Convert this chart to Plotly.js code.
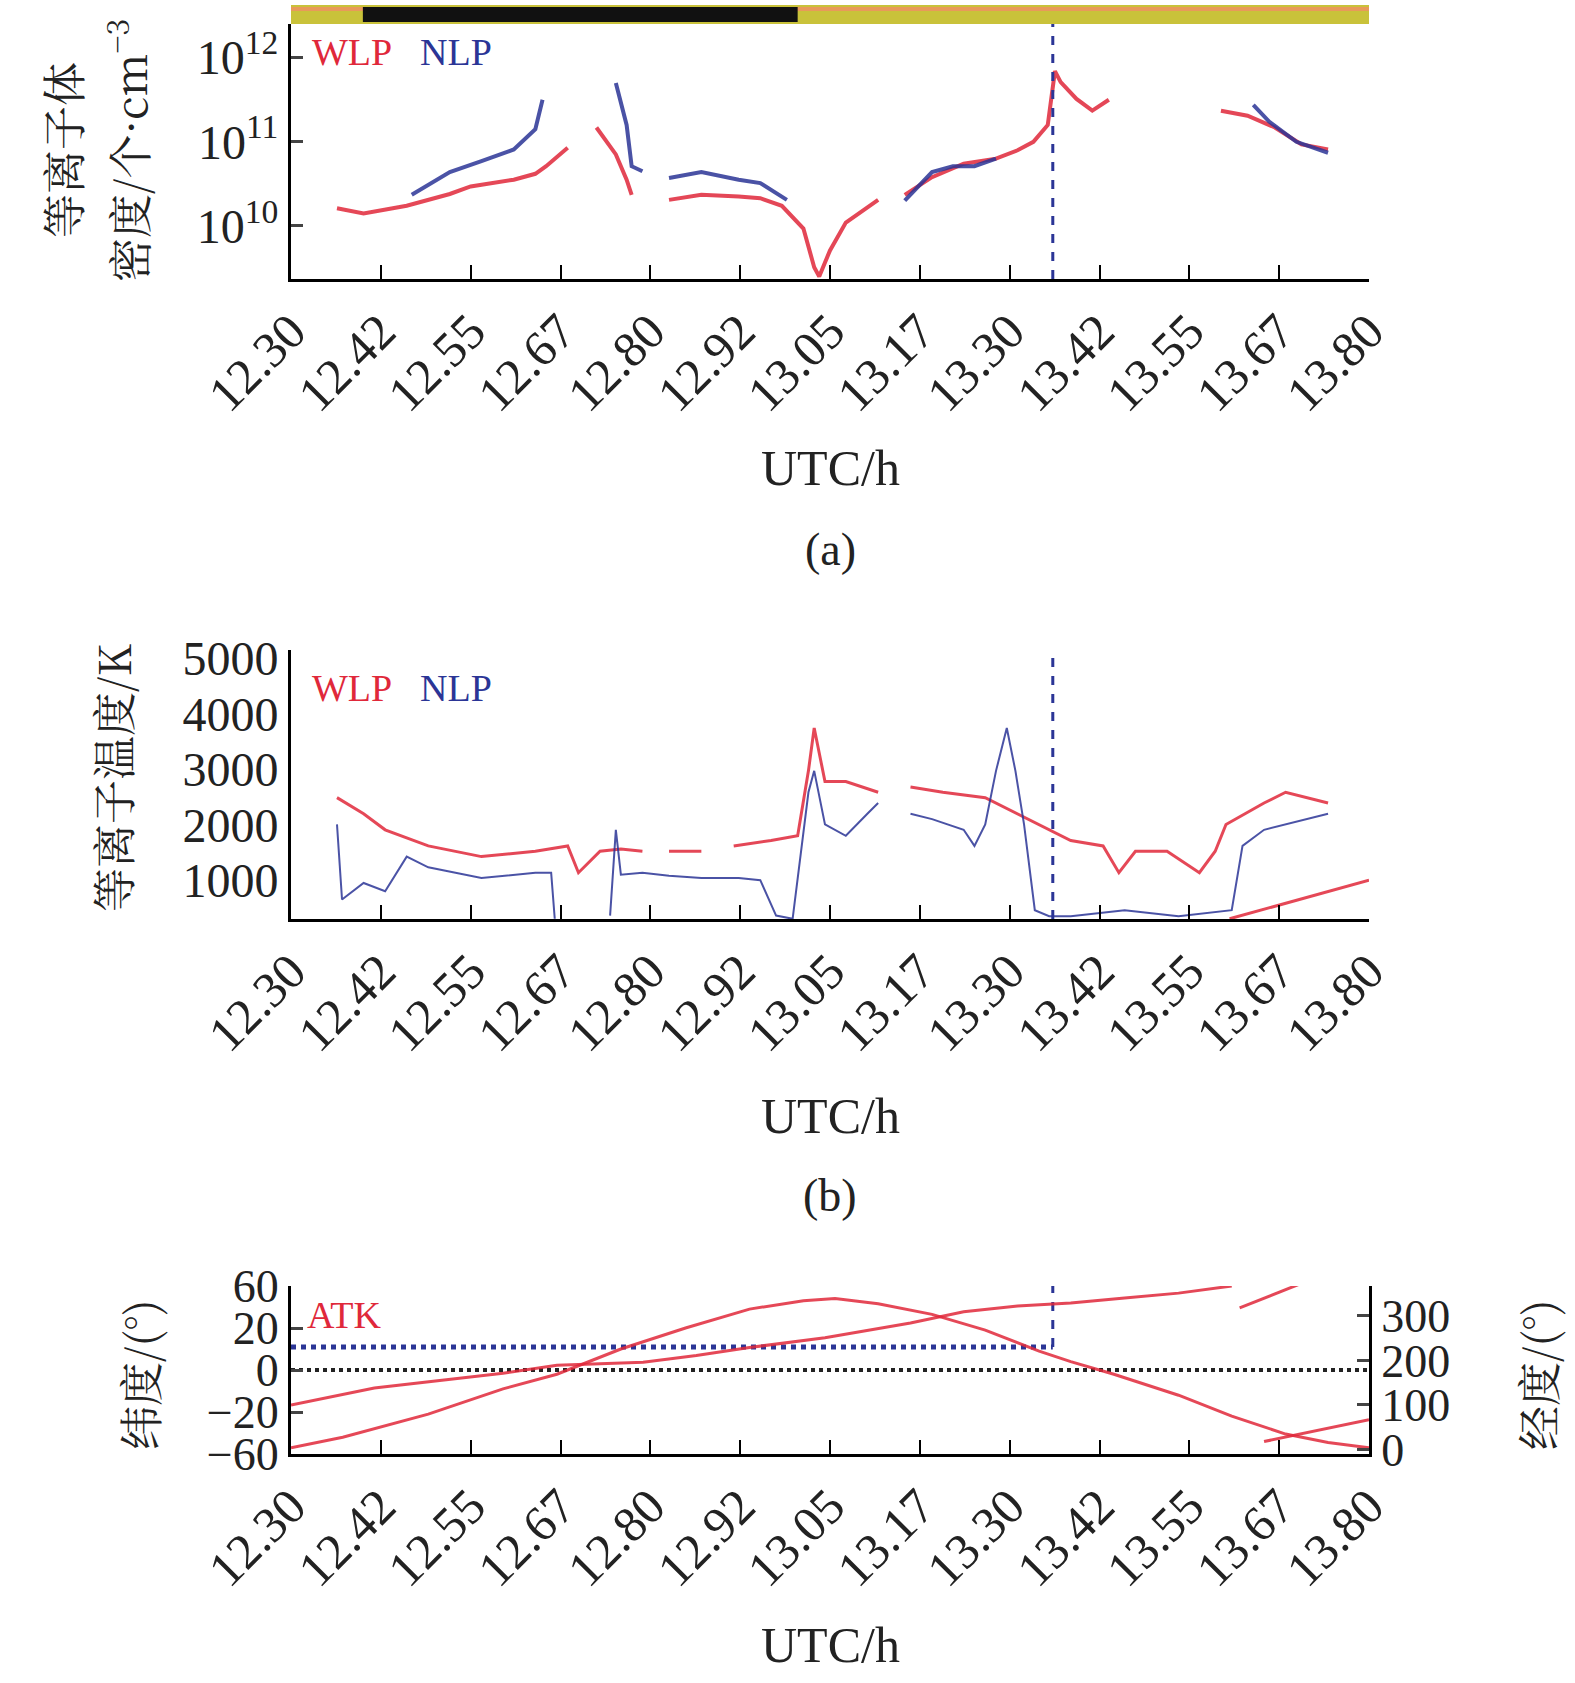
<!DOCTYPE html>
<html><head><meta charset="utf-8">
<script src="https://cdn.plot.ly/plotly-3.0.1.min.js"></script>
<style>body{margin:0;background:#fff}</style></head>
<body><div id="g" style="width:1575px;height:1683px"></div>
<script>
const tickVals=[12.30,12.425,12.55,12.675,12.80,12.925,13.05,13.175,13.30,13.425,13.55,13.675,13.80];
const tickText=['12.30','12.42','12.55','12.67','12.80','12.92','13.05','13.17','13.30','13.42','13.55','13.67','13.80'];
const eventT=13.36;
// density (log10 cm^-3)
const wlpDenT=[12.364,12.401,12.461,12.521,12.550,12.580,12.610,12.640,12.655,12.685,null,12.725,12.752,12.767,12.774,null,12.826,12.871,12.923,12.953,12.983,13.013,13.028,13.035,13.050,13.072,13.117,null,13.154,13.192,13.236,13.281,13.311,13.333,13.353,13.363,13.371,13.393,13.415,13.438,null,13.594,13.631,13.669,13.706,13.743];
const wlpDen=[10.21,10.15,10.24,10.38,10.47,10.51,10.55,10.62,10.71,10.93,null,11.17,10.85,10.55,10.37,null,10.31,10.37,10.35,10.33,10.24,9.97,9.51,9.40,9.71,10.04,10.31,null,10.37,10.58,10.74,10.80,10.90,11.0,11.2,11.84,11.71,11.51,11.37,11.5,null,11.37,11.31,11.17,10.97,10.91];
const nlpDenT=[12.468,12.521,12.565,12.610,12.640,12.650,null,12.752,12.767,12.774,12.789,null,12.826,12.871,12.923,12.953,12.990,null,13.154,13.192,13.221,13.251,13.281,null,13.639,13.661,13.699,13.743];
const nlpDen=[10.37,10.64,10.77,10.91,11.15,11.5,null,11.7,11.2,10.71,10.65,null,10.57,10.64,10.55,10.51,10.31,null,10.3,10.64,10.71,10.71,10.8,null,11.44,11.24,11.0,10.87];
// temperature K
const wlpTT=[12.364,12.401,12.431,12.491,12.565,12.640,12.685,12.700,12.730,12.759,12.789,null,12.826,12.871,null,12.916,12.968,13.005,13.020,13.028,13.043,13.072,13.117,null,13.162,13.207,13.266,13.311,13.355,13.385,13.430,13.452,13.475,13.519,13.564,13.586,13.601,13.654,13.684,13.743];
const wlpT=[2488,2198,1908,1618,1425,1522,1618,1135,1522,1560,1522,null,1522,1522,null,1618,1715,1800,2971,3744,2778,2778,2585,null,2681,2585,2488,2198,1908,1715,1618,1135,1522,1522,1135,1522,2005,2391,2585,2391];
const nlpTT=[12.364,12.371,12.401,12.431,12.461,12.491,12.565,12.640,12.662,12.667,null,12.744,12.752,12.759,12.789,12.826,12.871,12.923,12.953,12.975,12.998,13.020,13.028,13.043,13.072,13.102,13.117,null,13.162,13.192,13.236,13.251,13.266,13.281,13.296,13.308,13.320,13.335,13.355,13.385,13.460,13.535,13.609,13.624,13.654,13.713,13.743];
const nlpT=[2005,652,950,800,1425,1232,1039,1135,1135,304,null,360,1908,1100,1135,1080,1039,1039,1000,362,304,2585,2971,2005,1800,2198,2391,null,2198,2101,1908,1618,2005,2971,3744,2971,2005,459,350,350,459,350,459,1618,1908,2101,2198];
const atkLineT=[13.606,13.80];
const atkLine=[304,1000];
// latitude (deg) and longitude (deg)
const latT=[12.30,12.372,12.491,12.595,12.67,12.759,12.849,12.938,13.013,13.057,13.117,13.192,13.266,13.341,13.385,13.445,13.535,13.609,13.684,13.743,13.80];
const lat=[-54,-44,-22,-9,-2,10,20,38,46,48,43,33,19,9,4,-2,-12,-24,-41,-49,-54];
const lonT=[12.30,12.416,12.595,12.67,12.79,12.864,12.938,13.043,13.162,13.236,13.311,13.385,13.46,13.535,13.609,null,13.62,13.703,null,13.654,13.80];
const lon=[100,138,171,189,196,211,229,251,284,309,322,329,340,351,367,null,318,371,null,18,67];
const refLat=11, refT0=12.30;
const eclipseStart=12.40, eclipseEnd=13.005;
const latPos=[-60,-20,0,20,60];
function toPos(v){for(let i=0;i<4;i++){if(v<=latPos[i+1])return i-2+(v-latPos[i])/(latPos[i+1]-latPos[i]);}return 2;}

const RED='#e0283a', BLUE='#2b3596';
const F='Liberation Serif, Times New Roman, serif';
const CJK='Noto Sans CJK SC';
const P=v=>v/1683;
const xd=[291/1575,1369/1575];
function xax(anchor){return {domain:xd,range:[12.30,13.80],anchor:anchor,tickvals:tickVals,ticktext:tickText,tickangle:-45,ticks:'inside',ticklen:14,tickwidth:2,tickcolor:'#000',showline:true,linewidth:3,linecolor:'#000',showgrid:false,zeroline:false,tickfont:{family:F,size:50,color:'#222'},mirror:false};}
const dots=(x,y,c,ax,w)=>({x:x,y:y,xaxis:ax[0],yaxis:ax[1],mode:'lines',line:{color:c,width:w||4},connectgaps:false,opacity:0.85,showlegend:false});
const traces=[
 dots(wlpDenT,wlpDen.map(v=>v==null?null:Math.pow(10,v)),RED,['x','y']),
 dots(nlpDenT,nlpDen.map(v=>v==null?null:Math.pow(10,v)),BLUE,['x','y']),
 dots(wlpTT,wlpT,RED,['x2','y2'],3),
 dots(nlpTT,nlpT,BLUE,['x2','y2'],2),
 dots(atkLineT,atkLine,RED,['x2','y2'],3),
 {x:[refT0,eventT],y:[toPos(refLat),toPos(refLat)],xaxis:'x3',yaxis:'y3',mode:'lines',line:{color:BLUE,width:5,dash:'dot'},showlegend:false},
 {x:[12.30,13.80],y:[0,0],xaxis:'x3',yaxis:'y3',mode:'lines',line:{color:'#222',width:4,dash:'dot'},showlegend:false},
 dots(latT,lat.map(toPos),RED,['x3','y3'],3),
 dots(lonT,lon,RED,['x3','y4'],3),
 {x:[eventT,eventT],y:[toPos(refLat),2],xaxis:'x3',yaxis:'y3',mode:'lines',line:{color:BLUE,width:3,dash:'dash'},showlegend:false}
];
const vline=(xr,yr)=>({type:'line',xref:xr,yref:yr+' domain',x0:eventT,x1:eventT,y0:0,y1:1,line:{color:BLUE,width:3,dash:'dash'}});
const ann=(text,x,y,size,color,fam,angle)=>({text:text,x:x/1575,y:1-P(y),xref:'paper',yref:'paper',xanchor:'center',yanchor:'middle',textangle:angle||0,showarrow:false,font:{family:fam||F,size:size,color:color||'#222'}});
const lab=(text,x,y,color)=>Object.assign(ann(text,x,y,38,color),{xanchor:'left'});
const layout={width:1575,height:1683,margin:{l:0,r:0,t:0,b:0},paper_bgcolor:'#fff',plot_bgcolor:'#fff',showlegend:false,
 xaxis:xax('y'),xaxis2:xax('y2'),xaxis3:xax('y3'),
 yaxis:{domain:[1-P(279),1-P(24)],type:'log',range:[9.37,12.4],anchor:'x',tickvals:[1e10,1e11,1e12],ticktext:['10<sup>10</sup>','10<sup>11</sup>','10<sup>12</sup>'],ticks:'inside',ticklen:12,tickwidth:3,showline:true,linewidth:3,linecolor:'#000',showgrid:false,tickfont:{family:F,size:48,color:'#222'}},
 yaxis2:{domain:[1-P(919),1-P(650)],range:[300,5150],anchor:'x2',tickvals:[1000,2000,3000,4000,5000],ticks:'',showline:true,linewidth:3,linecolor:'#000',showgrid:false,zeroline:false,tickfont:{family:F,size:48,color:'#222'}},
 yaxis3:{domain:[1-P(1454),1-P(1286)],range:[-2,2],anchor:'x3',tickvals:[-2,-1,0,1,2],ticktext:latPos.map(v=>v<0?'\u2212'+(-v):String(v)),ticks:'inside',ticklen:12,tickwidth:3,showline:true,linewidth:3,linecolor:'#000',showgrid:false,zeroline:false,tickfont:{family:F,size:46,color:'#222'}},
 yaxis4:{domain:[1-P(1454),1-P(1286)],overlaying:'y3',side:'right',range:[-10,367],anchor:'x3',tickvals:[0,100,200,300],ticks:'inside',ticklen:12,tickwidth:3,showline:true,linewidth:3,linecolor:'#000',showgrid:false,zeroline:false,tickfont:{family:F,size:46,color:'#222'}},
 shapes:[
  {type:'rect',xref:'x',yref:'paper',x0:12.30,x1:13.80,y0:1-P(24),y1:1-P(5),fillcolor:'#c9c23a',line:{width:0}},
  {type:'rect',xref:'x',yref:'paper',x0:12.30,x1:13.80,y0:1-P(11),y1:1-P(7),fillcolor:'#e89a5a',line:{width:0}},
  {type:'rect',xref:'x',yref:'paper',x0:eclipseStart,x1:eclipseEnd,y0:1-P(22),y1:1-P(7),fillcolor:'#111',line:{width:0}},
  vline('x','y'),vline('x2','y2')
 ],
 annotations:[
  lab('WLP',310,52,RED),lab('NLP',418,52,BLUE),
  lab('WLP',310,688,RED),lab('NLP',418,688,BLUE),
  lab('ATK',305,1315,RED),
  ann('等离子体',62,150,44,null,'Noto Serif CJK SC, '+CJK,-90),
  ann('密度/个·cm<sup>−3</sup>',127,150,44,null,'Noto Serif CJK SC, '+CJK,-90),
  ann('等离子温度/K',112,778,44,null,'Noto Serif CJK SC, '+CJK,-90),
  ann('纬度/(°)',139,1375,44,null,'Noto Serif CJK SC, '+CJK,-90),
  ann('经度/(°)',1537,1375,44,null,'Noto Serif CJK SC, '+CJK,-90),
  ann('UTC/h',830,468,50),ann('(a)',830,550,46),
  ann('UTC/h',830,1116,50),ann('(b)',830,1195,46),
  ann('UTC/h',830,1645,50)
 ]};
Plotly.newPlot('g',traces,layout,{staticPlot:true});
</script></body></html>
